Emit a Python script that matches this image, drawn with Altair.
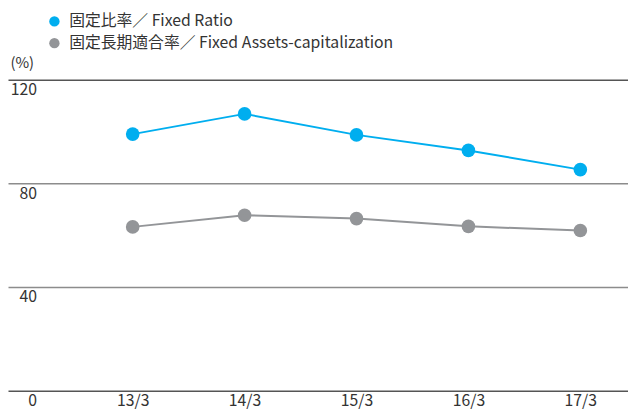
import altair as alt
import pandas as pd

years = ["13/3", "14/3", "15/3", "16/3", "17/3"]
fixed_ratio = [99.0, 106.8, 98.7, 92.7, 85.3]
fixed_assets_cap = [63.2, 67.7, 66.4, 63.4, 61.8]
series_names = ["固定比率／ Fixed Ratio", "固定長期適合率／ Fixed Assets-capitalization"]
series_colors = ["#00AEEF", "#939598"]
y_ticks = [0, 40, 80, 120]

rows = []
for name, vals in zip(series_names, [fixed_ratio, fixed_assets_cap]):
    for yr, v in zip(years, vals):
        rows.append({"year": yr, "value": v, "series": name})
df = pd.DataFrame(rows)

FONT = "Noto Sans CJK JP"
TXT = "#333333"

x_enc = alt.X(
    "year:O",
    sort=years,
    scale=alt.Scale(type="point", padding=0.77, align=0.7234),
    axis=alt.Axis(
        title=None, ticks=False, domain=False, grid=False, labelAngle=0,
        labelFontSize=16, labelColor=TXT, labelFont=FONT, labelPadding=2,
        labelBaseline="top",
    ),
)
y_enc = alt.Y(
    "value:Q",
    scale=alt.Scale(domain=[0, 120], nice=False, zero=True),
    axis=alt.Axis(
        title="(%)", titleAngle=0, titleX=2, titleY=-17, titleAlign="left",
        titleBaseline="middle", titleFontSize=15, titleFontWeight="normal",
        titleColor=TXT, titleFont=FONT,
        values=y_ticks, ticks=False, tickSize=0, domain=False, grid=True,
        gridColor={"condition": {"test": "datum.value == 0 || datum.value == 120", "value": "#555555"}, "value": "#8c8c8c"},
        gridWidth=1.5,
        labelAlign="right", labelBaseline="top", labelPadding=-29, labelOffset=2,
        labelFontSize=16, labelColor=TXT, labelFont=FONT,
    ),
)
color_enc = alt.Color(
    "series:N",
    sort=series_names,
    scale=alt.Scale(domain=series_names, range=series_colors),
    legend=alt.Legend(
        title=None, orient="none", legendX=39, legendY=-67, direction="vertical",
        symbolType="circle", symbolSize=110, symbolStrokeWidth=0, symbolOpacity=1,
        labelFontSize=16, labelColor=TXT, labelFont=FONT, labelOffset=7,
        labelLimit=0, rowPadding=6, padding=0,
    ),
)

base = alt.Chart(df).encode(x=x_enc, y=y_enc, color=color_enc)
points = base.mark_circle(size=190, opacity=1)
line = base.mark_line(strokeWidth=2)

chart = (
    alt.layer(points, line)
    .properties(
        width=628, height=315,
        autosize=alt.AutoSizeParams(type="none"),
        padding={"left": 0, "top": 70, "right": 0, "bottom": 18},
        view=alt.ViewBackground(stroke="transparent", strokeWidth=0),
    )
    .configure(font=FONT, view=alt.ViewConfig(stroke="transparent", strokeWidth=0))
)

chart.save("out.html", embed_options={"renderer": "svg", "actions": False})
